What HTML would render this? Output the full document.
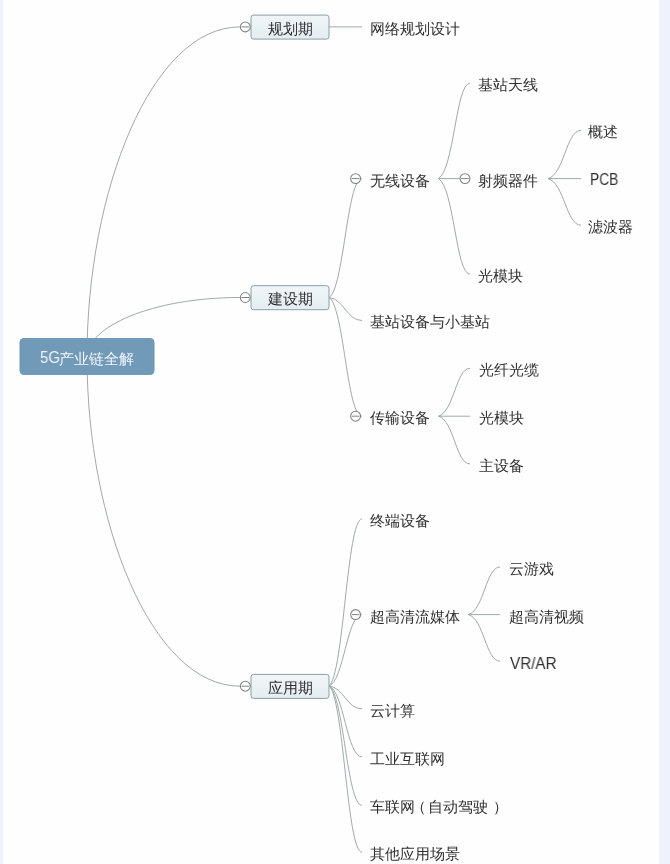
<!DOCTYPE html><html><head><meta charset="utf-8"><style>
html,body{margin:0;padding:0;width:670px;height:864px;overflow:hidden;background:#fefefe;}
body{position:relative;font-family:"Liberation Sans",sans-serif;}
.t{position:absolute;font-size:15px;line-height:20px;height:20px;color:#2f2f2f;white-space:nowrap;will-change:transform;}
.strip{position:absolute;top:0;height:864px;background:#edf2fb;}
</style></head><body>
<div class="strip" style="left:0;width:3px"></div><div class="strip" style="left:659px;width:11px"></div>
<svg width="670" height="864" viewBox="0 0 670 864" style="position:absolute;left:0;top:0">
<defs><linearGradient id="g1" x1="0" y1="0" x2="0" y2="1"><stop offset="0" stop-color="#f0f5f8"/><stop offset="1" stop-color="#e5edf1"/></linearGradient></defs>
<g fill="none" stroke="#9eaba9" stroke-width="1.0">
<path d="M87,357 C87,191.9 151.3,26.9 240,26.9 L246,26.9"/>
<path d="M87,357 C87,327.2 151.3,297.5 240,297.5 L246,297.5"/>
<path d="M87,357 C87,521.6 151.3,686.2 240,686.2 L246,686.2"/>
<path d="M329,26.9 L362,26.9"/>
<path d="M329.0,297.5 C343.9,289.2 346.8,178.6 362.0,178.6"/>
<path d="M329.0,297.5 C343.9,299.1 346.8,320.5 362.0,320.5"/>
<path d="M329.0,297.5 C343.9,305.8 346.8,416.2 362.0,416.2"/>
<path d="M329.0,686.0 C343.9,674.3 346.8,518.9 362.0,518.9"/>
<path d="M329.0,686.0 C343.9,681.0 346.8,614.6 362.0,614.6"/>
<path d="M329.0,686.0 C343.9,687.6 346.8,708.9 362.0,708.9"/>
<path d="M329.0,686.0 C343.9,691.0 346.8,756.9 362.0,756.9"/>
<path d="M329.0,686.0 C343.9,694.4 346.8,805.4 362.0,805.4"/>
<path d="M329.0,686.0 C343.9,697.6 346.8,852.2 362.0,852.2"/>
<path d="M438.5,178.6 C454.2,169.1 455.8,83.2 470.0,83.2"/>
<path d="M438.5,178.6 L470,178.6"/>
<path d="M438.5,178.6 C454.2,188.2 455.8,274.2 470.0,274.2"/>
<path d="M438.5,416.2 C454.2,411.4 455.8,368.4 470.0,368.4"/>
<path d="M438.5,416.2 L470,416.2"/>
<path d="M438.5,416.2 C454.2,421.0 455.8,463.9 470.0,463.9"/>
<path d="M468.4,614.6 C484.2,609.8 485.8,567.0 500.0,567.0"/>
<path d="M468.4,614.6 L500,614.6"/>
<path d="M468.4,614.6 C484.2,619.3 485.8,661.2 500.0,661.2"/>
<path d="M548.0,178.6 C564.5,173.8 566.1,130.4 581.0,130.4"/>
<path d="M548,178.6 L581,178.6"/>
<path d="M548.0,178.6 C564.5,183.3 566.1,225.2 581.0,225.2"/>
</g>
<rect x="19.5" y="338" width="135" height="37" rx="4.5" fill="#7199b8"/>
<rect x="251" y="15.1" width="78" height="24" rx="2.5" fill="url(#g1)" stroke="#8b9ea8" stroke-width="1"/>
<rect x="251" y="285.7" width="78" height="24" rx="2.5" fill="url(#g1)" stroke="#8b9ea8" stroke-width="1"/>
<rect x="251" y="674.4" width="78" height="24" rx="2.5" fill="url(#g1)" stroke="#8b9ea8" stroke-width="1"/>
<circle cx="245.3" cy="26.9" r="4.95" fill="#fff" stroke="#828282" stroke-width="1.05"/><path d="M241.5,26.9 L249.10000000000002,26.9" stroke="#828282" stroke-width="1"/>
<circle cx="245.3" cy="297.5" r="4.95" fill="#fff" stroke="#828282" stroke-width="1.05"/><path d="M241.5,297.5 L249.10000000000002,297.5" stroke="#828282" stroke-width="1"/>
<circle cx="245.3" cy="686.2" r="4.95" fill="#fff" stroke="#828282" stroke-width="1.05"/><path d="M241.5,686.2 L249.10000000000002,686.2" stroke="#828282" stroke-width="1"/>
<circle cx="355.6" cy="178.6" r="4.95" fill="#fff" stroke="#828282" stroke-width="1.05"/><path d="M351.8,178.6 L359.40000000000003,178.6" stroke="#828282" stroke-width="1"/>
<circle cx="355.6" cy="416.2" r="4.95" fill="#fff" stroke="#828282" stroke-width="1.05"/><path d="M351.8,416.2 L359.40000000000003,416.2" stroke="#828282" stroke-width="1"/>
<circle cx="355.6" cy="614.6" r="4.95" fill="#fff" stroke="#828282" stroke-width="1.05"/><path d="M351.8,614.6 L359.40000000000003,614.6" stroke="#828282" stroke-width="1"/>
<circle cx="465" cy="178.6" r="4.95" fill="#fff" stroke="#828282" stroke-width="1.05"/><path d="M461.2,178.6 L468.8,178.6" stroke="#828282" stroke-width="1"/>
</svg>
<div class="t" style="left:369.5px;top:18.8px">网络规划设计</div>
<div class="t" style="left:369.5px;top:170.5px">无线设备</div>
<div class="t" style="left:369.5px;top:312.4px">基站设备与小基站</div>
<div class="t" style="left:369.5px;top:408.1px">传输设备</div>
<div class="t" style="left:369.5px;top:510.8px">终端设备</div>
<div class="t" style="left:369.5px;top:606.5px">超高清流媒体</div>
<div class="t" style="left:369.5px;top:700.8px">云计算</div>
<div class="t" style="left:369.5px;top:748.8px">工业互联网</div>
<div class="t" style="left:369.5px;top:844.1px">其他应用场景</div>
<div class="t" style="left:369.5px;top:797.3px">车联网</div>
<div class="t" style="left:410.6px;top:797.3px">（</div>
<div class="t" style="left:427.5px;top:797.3px">自动驾驶</div>
<div class="t" style="left:492.8px;top:797.3px">）</div>
<div class="t" style="left:477.5px;top:75.1px">基站天线</div>
<div class="t" style="left:477.5px;top:170.5px">射频器件</div>
<div class="t" style="left:477.5px;top:266.1px">光模块</div>
<div class="t" style="left:478.5px;top:360.3px">光纤光缆</div>
<div class="t" style="left:478.5px;top:408.1px">光模块</div>
<div class="t" style="left:478.5px;top:455.8px">主设备</div>
<div class="t" style="left:508.5px;top:558.9px">云游戏</div>
<div class="t" style="left:508.5px;top:607.0px">超高清视频</div>
<div class="t" style="left:587.5px;top:122.3px">概述</div>
<div class="t" style="left:587.5px;top:217.1px">滤波器</div>
<div class="t" style="left:251px;width:78px;text-align:center;top:18.6px">规划期</div>
<div class="t" style="left:251px;width:78px;text-align:center;top:289.2px">建设期</div>
<div class="t" style="left:251px;width:78px;text-align:center;top:677.9px">应用期</div>
<div class="t" style="left:509.5px;top:653.6px;font-size:15.6px;transform:scaleX(0.975);transform-origin:0 0">VR/AR</div>
<div class="t" style="left:589.5px;top:170px;font-size:15.6px;transform:scaleX(0.88);transform-origin:0 0">PCB</div>
<div class="t" style="left:39.6px;top:347.6px;font-size:16px;transform:scaleX(0.93);transform-origin:0 0;color:#f2f7fb">5G</div>
<div class="t" style="left:59px;top:348.5px;color:#f2f7fb">产业链全解</div>
</body></html>
